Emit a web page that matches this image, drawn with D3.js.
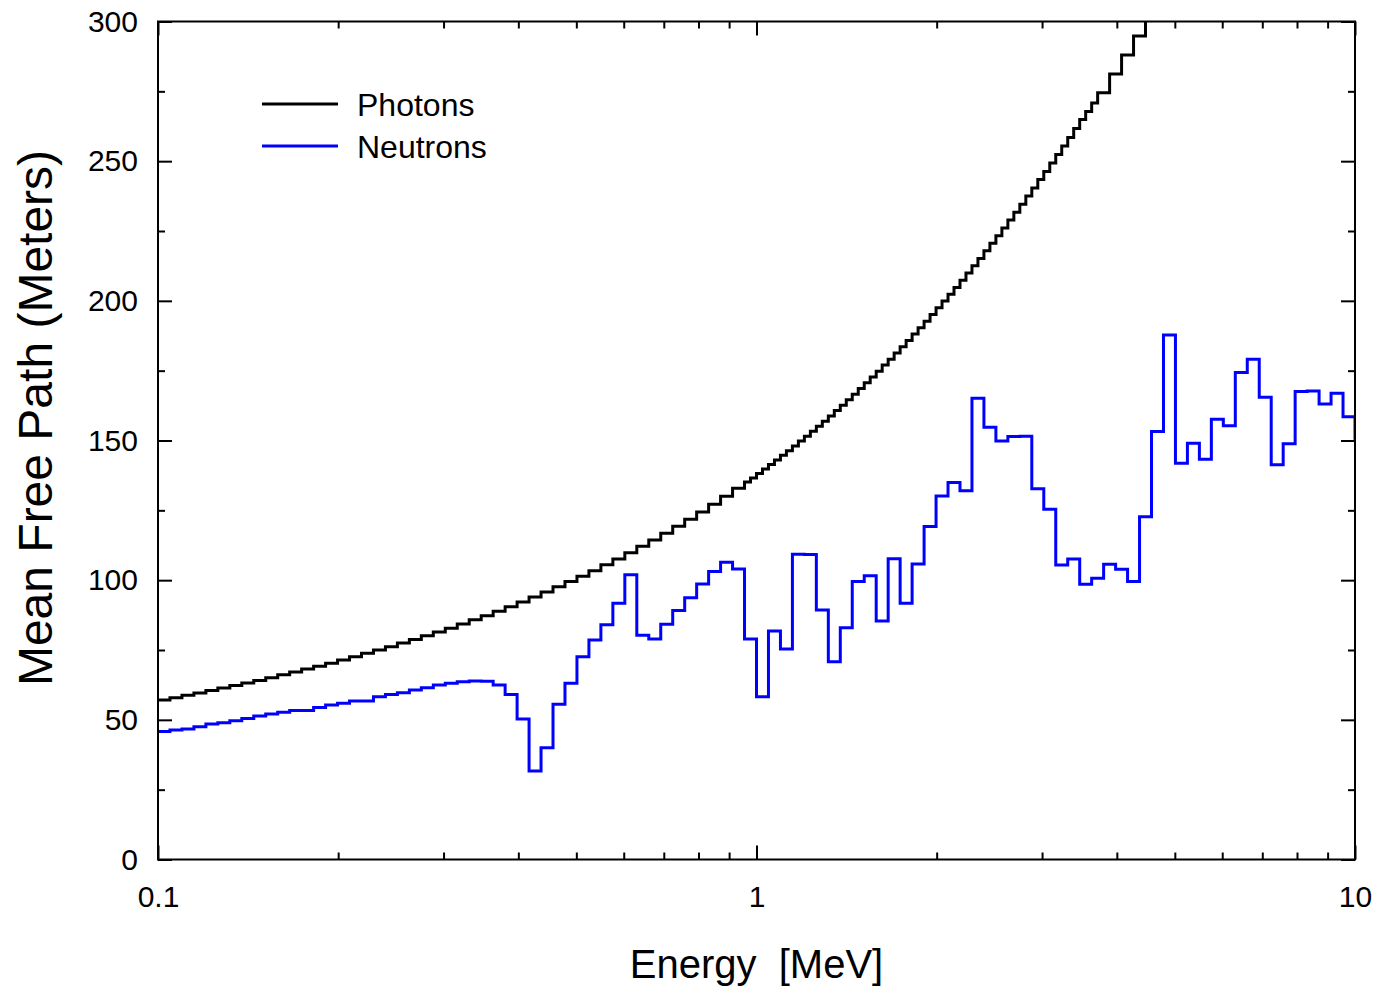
<!DOCTYPE html>
<html>
<head>
<meta charset="utf-8">
<script src="https://cdn.jsdelivr.net/npm/d3@7"></script>
<style>
  html, body { margin: 0; padding: 0; background: #fff; }
  svg { display: block; font-family: "Liberation Sans", Arial, sans-serif; }
</style>
</head>
<body>
<svg id="chart" width="1378" height="986"></svg>
<script>
// ---- Data ----
// Neutron histogram bin edges (MeV)
const neutronEdges = [
  0.10000, 0.10471, 0.10965, 0.11482, 0.12023, 0.12589, 0.13183, 0.13804, 0.14454, 0.15136,
  0.15849, 0.16596, 0.17378, 0.18197, 0.19055, 0.19953, 0.20893, 0.21878, 0.22909, 0.23988,
  0.25119, 0.26303, 0.27542, 0.28840, 0.30200, 0.31623, 0.33113, 0.34674, 0.36308, 0.38019,
  0.39811, 0.41687, 0.43652, 0.45709, 0.47863, 0.50119, 0.52481, 0.54954, 0.57544, 0.60256,
  0.63096, 0.66069, 0.69183, 0.72444, 0.75858, 0.79433, 0.83176, 0.87096, 0.91201, 0.95499,
  1.0000, 1.0471, 1.0965, 1.1482, 1.2023, 1.2589, 1.3183, 1.3804, 1.4454, 1.5136,
  1.5849, 1.6596, 1.7378, 1.8197, 1.9055, 1.9953, 2.0893, 2.1878, 2.2909, 2.3988,
  2.5119, 2.6303, 2.7542, 2.8840, 3.0200, 3.1623, 3.3113, 3.4674, 3.6308, 3.8019,
  3.9811, 4.1687, 4.3652, 4.5709, 4.7863, 5.0119, 5.2481, 5.4954, 5.7544, 6.0256,
  6.3096, 6.6069, 6.9183, 7.2444, 7.5858, 7.9433, 8.3176, 8.7096, 9.1201, 9.5499,
  10.000, 10.471
];

// Neutron mean free path per bin (m)
const neutronMFP = [
  45.8, 46.4, 46.7, 47.5, 48.5, 49.0, 49.7, 50.5, 51.4, 52.1,
  52.7, 53.3, 53.3, 54.4, 55.3, 55.9, 56.7, 56.7, 58.3, 59.1,
  59.7, 60.7, 61.5, 62.5, 63.1, 63.6, 63.9, 63.8, 62.5, 59.1,
  50.3, 31.7, 40.0, 55.6, 63.1, 72.6, 78.6, 84.0, 91.7, 101.9,
  80.3, 78.9, 84.2, 89.1, 93.7, 98.6, 103.1, 106.4, 104.0, 78.9,
  58.3, 81.8, 75.4, 109.3, 109.2, 89.3, 70.8, 83.0, 99.5, 101.6,
  85.4, 107.7, 91.7, 105.8, 119.2, 130.1, 135.0, 132.0, 165.1, 154.7,
  149.8, 151.4, 151.5, 132.7, 125.4, 105.4, 107.6, 98.5, 100.7, 105.7,
  103.9, 99.5, 122.7, 153.2, 187.8, 141.9, 149.0, 143.3, 157.6, 155.3,
  174.3, 179.1, 165.5, 141.3, 148.8, 167.5, 167.7, 163.1, 166.9, 158.5,
  150.8
];

// Photon histogram bin edges (MeV): coarse below ~0.95 MeV, fine up to ~3.7 MeV, coarse above
const photonEdges = [
  0.10000, 0.10471, 0.10965, 0.11482, 0.12023, 0.12589, 0.13183, 0.13804, 0.14454, 0.15136,
  0.15849, 0.16596, 0.17378, 0.18197, 0.19055, 0.19953, 0.20893, 0.21878, 0.22909, 0.23988,
  0.25119, 0.26303, 0.27542, 0.28840, 0.30200, 0.31623, 0.33113, 0.34674, 0.36308, 0.38019,
  0.39811, 0.41687, 0.43652, 0.45709, 0.47863, 0.50119, 0.52481, 0.54954, 0.57544, 0.60256,
  0.63096, 0.66069, 0.69183, 0.72444, 0.75858, 0.79433, 0.83176, 0.87096, 0.91201,
  0.95499, 0.97724, 1.0000, 1.0233, 1.0471, 1.0715, 1.0965, 1.1220, 1.1482, 1.1749,
  1.2023, 1.2303, 1.2589, 1.2882, 1.3183, 1.3490, 1.3804, 1.4125, 1.4454, 1.4791,
  1.5136, 1.5488, 1.5849, 1.6218, 1.6596, 1.6982, 1.7378, 1.7783, 1.8197, 1.8621,
  1.9055, 1.9498, 1.9953, 2.0417, 2.0893, 2.1380, 2.1878, 2.2387, 2.2909, 2.3442,
  2.3988, 2.4547, 2.5119, 2.5704, 2.6303, 2.6915, 2.7542, 2.8184, 2.8840, 2.9512,
  3.0200, 3.0903, 3.1623, 3.2359, 3.3113, 3.3884, 3.4674, 3.5481, 3.6308, 3.7154,
  3.8905, 4.0738, 4.2658, 4.4668, 4.6774
];

// Photon mean free path per bin (m)
const photonMFP = [
  57.1, 57.9, 58.8, 59.6, 60.5, 61.4, 62.3, 63.2, 64.1, 65.1,
  66.1, 67.1, 68.2, 69.2, 70.3, 71.4, 72.6, 73.8, 75.0, 76.2,
  77.5, 78.8, 80.1, 81.4, 82.8, 84.3, 85.8, 87.3, 88.9, 90.5,
  92.2, 94.0, 95.8, 97.6, 99.5, 101.4, 103.4, 105.5, 107.6, 109.8,
  112.1, 114.4, 116.8, 119.3, 121.8, 124.4, 127.2, 130.0, 132.9,
  135.1, 136.6, 138.2, 139.8, 141.4, 143.0, 144.7, 146.3, 148.0, 149.8,
  151.5, 153.3, 155.1, 156.9, 158.8, 160.7, 162.6, 164.6, 166.6, 168.6,
  170.7, 172.7, 174.8, 177.0, 179.1, 181.3, 183.6, 185.8, 188.1, 190.4,
  192.7, 195.1, 197.5, 199.9, 202.4, 204.8, 207.4, 210.0, 212.6, 215.2,
  217.9, 220.6, 223.3, 226.1, 228.9, 231.7, 234.6, 237.5, 240.4, 243.4,
  246.3, 249.3, 252.4, 255.4, 258.5, 261.7, 264.9, 267.8, 270.8,
  274.5, 281.2, 288.0, 294.8, 310.0
];

const seriesNames = ["Photons", "Neutrons"];
const seriesColors = ["#000000", "#0000ff"];
const xMajorTicks = [0.1, 1, 10];
const xMajorLabels = ["0.1", "1", "10"];
const xMinorTicks = [0.2,0.3,0.4,0.5,0.6,0.7,0.8,0.9,2,3,4,5,6,7,8,9];
const yMajorTicks = [0, 50, 100, 150, 200, 250, 300];
const yMinorTicks = [25, 75, 125, 175, 225, 275];
const xTitle = "Energy  [MeV]";
const yTitle = "Mean Free Path (Meters)";

// ---- Layout ----
const svg = d3.select("#chart");
const L = 158, T = 21.5, R = 1355, B = 859.5;
const x = d3.scaleLog().domain([0.1, 10]).range([L, R]);
const y = d3.scaleLinear().domain([0, 300]).range([B, T]);

svg.append("defs").append("clipPath").attr("id", "plotclip")
  .append("rect").attr("x", L).attr("y", T).attr("width", R - L).attr("height", B - T);

function stepPoints(edges, values) {
  const pts = [];
  values.forEach((v, i) => {
    pts.push([edges[i], v]);
    pts.push([edges[i + 1], v]);
  });
  return pts;
}
const line = d3.line().x(d => x(d[0])).y(d => y(d[1]));

const plot = svg.append("g").attr("clip-path", "url(#plotclip)");
[[photonEdges, photonMFP], [neutronEdges, neutronMFP]].forEach(([edges, vals], i) => {
  plot.append("path")
    .attr("d", line(stepPoints(edges, vals)))
    .attr("fill", "none")
    .attr("stroke", seriesColors[i])
    .attr("stroke-width", 3)
    .attr("stroke-linejoin", "miter")
    .attr("stroke-linecap", "square");
});

// ---- Axes ----
function styleAxis(g) {
  g.select(".domain").remove();
  g.selectAll(".tick line").attr("stroke", "#000").attr("stroke-width", 2);
  g.selectAll(".tick text").attr("fill", "#000").attr("font-size", 30)
    .attr("font-family", "Liberation Sans, Arial, sans-serif");
}
// bottom
svg.append("g").attr("transform", `translate(0,${B})`)
  .call(d3.axisBottom(x).tickValues(xMajorTicks).tickFormat((d, i) => xMajorLabels[i])
    .tickSizeInner(-14).tickSizeOuter(0).tickPadding(26))
  .call(styleAxis);
svg.append("g").attr("transform", `translate(0,${B})`)
  .call(d3.axisBottom(x).tickValues(xMinorTicks).tickFormat("").tickSizeInner(-7).tickSizeOuter(0))
  .call(styleAxis);
// top
svg.append("g").attr("transform", `translate(0,${T})`)
  .call(d3.axisTop(x).tickValues(xMajorTicks).tickFormat("").tickSizeInner(-14).tickSizeOuter(0))
  .call(styleAxis);
svg.append("g").attr("transform", `translate(0,${T})`)
  .call(d3.axisTop(x).tickValues(xMinorTicks).tickFormat("").tickSizeInner(-7).tickSizeOuter(0))
  .call(styleAxis);
// left
svg.append("g").attr("transform", `translate(${L},0)`)
  .call(d3.axisLeft(y).tickValues(yMajorTicks).tickFormat(d3.format("d"))
    .tickSizeInner(-14).tickSizeOuter(0).tickPadding(20))
  .call(styleAxis);
svg.append("g").attr("transform", `translate(${L},0)`)
  .call(d3.axisLeft(y).tickValues(yMinorTicks).tickFormat("").tickSizeInner(-7).tickSizeOuter(0))
  .call(styleAxis);
// right
svg.append("g").attr("transform", `translate(${R},0)`)
  .call(d3.axisRight(y).tickValues(yMajorTicks).tickFormat("").tickSizeInner(-14).tickSizeOuter(0))
  .call(styleAxis);
svg.append("g").attr("transform", `translate(${R},0)`)
  .call(d3.axisRight(y).tickValues(yMinorTicks).tickFormat("").tickSizeInner(-7).tickSizeOuter(0))
  .call(styleAxis);

// frame
svg.append("rect").attr("x", L).attr("y", T).attr("width", R - L).attr("height", B - T)
  .attr("fill", "none").attr("stroke", "#000").attr("stroke-width", 2);

// ---- Titles ----
svg.append("text")
  .attr("x", (L + R) / 2).attr("y", 978)
  .attr("text-anchor", "middle").attr("font-size", 40)
  .style("white-space", "pre").attr("fill", "#000")
  .text(xTitle);
svg.append("text")
  .attr("transform", "translate(52,418) rotate(-90)")
  .attr("text-anchor", "middle").attr("font-size", 48).attr("fill", "#000")
  .text(yTitle);

// ---- Legend ----
const legend = svg.append("g");
seriesNames.forEach((name, i) => {
  const ly = 104 + i * 42;
  legend.append("line").attr("x1", 262).attr("x2", 338).attr("y1", ly).attr("y2", ly)
    .attr("stroke", seriesColors[i]).attr("stroke-width", 3);
  legend.append("text").attr("x", 357).attr("y", ly + 11.5)
    .attr("font-size", 32).attr("fill", "#000").text(name);
});
</script>
</body>
</html>
